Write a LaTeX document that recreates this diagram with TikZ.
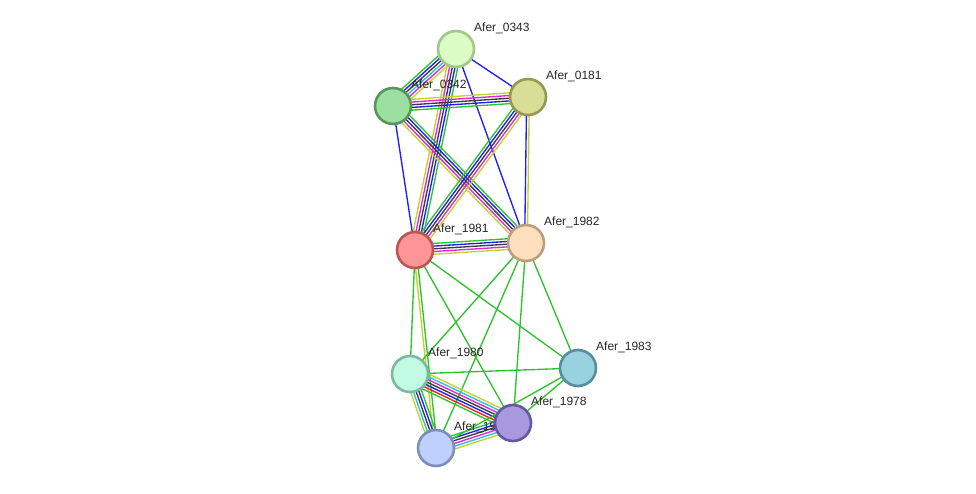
\documentclass[tikz,border=0pt]{standalone}
\usepackage{fontspec}
\setmainfont{Liberation Sans}
\usepackage{xcolor}
\usepackage{tikz}
\usetikzlibrary{calc}

\definecolor{sgreen}{RGB}{45,195,45}
\definecolor{sblue}{RGB}{30,30,245}
\definecolor{sblack}{RGB}{60,60,60}
\definecolor{smagenta}{RGB}{220,40,220}
\definecolor{scyan}{RGB}{40,190,230}
\definecolor{syellow}{RGB}{190,212,40}
\definecolor{sred}{RGB}{240,30,30}

% bundle of parallel evidence lines between two proteins
\newcommand{\strlink}[3]{%
  \foreach \col [count=\k] in {#3} {\xdef\nlink{\k}}
  \foreach \col [count=\k] in {#3} {
    \pgfmathsetmacro{\off}{(\k-(\nlink+1)/2)*2.7}
    \draw[\col,line width=1.35pt] ($(#1)!\off pt!90:(#2)$) -- ($(#2)!\off pt!-90:(#1)$);
  }}

\tikzset{
  prot/.style={circle,minimum size=36pt,inner sep=0pt,line width=2.6pt},
  plabel/.style={anchor=west,inner sep=0pt,font=\fontsize{12}{14}\selectfont,text=black!85}
}

\begin{document}
\begin{tikzpicture}[x=1pt,y=-1pt]
\useasboundingbox (0,0) rectangle (976,494);
\coordinate (n0343) at (456,49);
\coordinate (n0342) at (393,106);
\coordinate (n0181) at (528,97);
\coordinate (n1981) at (415,250);
\coordinate (n1982) at (526,243);
\coordinate (n1980) at (410,374);
\coordinate (n1983) at (578,368);
\coordinate (n1978) at (513,423);
\coordinate (n1979) at (436,448);
% edges
\strlink{n0343}{n0342}{sgreen,sblue,sblack,scyan,smagenta,syellow}
\strlink{n0343}{n0181}{sblue}
\strlink{n0343}{n1981}{syellow,smagenta,sblack,sblue,sgreen}
\strlink{n0343}{n1982}{sblue}
\strlink{n0342}{n0181}{sgreen,sblue,sblack,smagenta,syellow}
\strlink{n0342}{n1981}{sblue}
\strlink{n0342}{n1982}{syellow,smagenta,sblack,sblue,sgreen}
\strlink{n0181}{n1981}{sgreen,sblue,sblack,smagenta,syellow}
\strlink{n0181}{n1982}{sblue,syellow}
\strlink{n1981}{n1982}{syellow,smagenta,sblack,sblue,sgreen}
\strlink{n1981}{n1980}{sgreen}
\strlink{n1981}{n1979}{syellow,sgreen}
\strlink{n1981}{n1978}{sgreen}
\strlink{n1981}{n1983}{sgreen}
\strlink{n1982}{n1980}{sgreen}
\strlink{n1982}{n1979}{sgreen}
\strlink{n1982}{n1978}{sgreen}
\strlink{n1982}{n1983}{sgreen}
\strlink{n1980}{n1983}{sgreen}
\strlink{n1980}{n1978}{sgreen,sred,sblue,sblack,smagenta,scyan,syellow}
\strlink{n1980}{n1979}{syellow,scyan,sblack,sblue,sgreen}
\strlink{n1979}{n1978}{syellow,scyan,smagenta,sblack,sblue,sgreen}
\strlink{n1983}{n1978}{sgreen}
\strlink{n1983}{n1979}{sgreen}
% proteins
\node[prot,fill={rgb,255:red,217;green,253;blue,196},draw={rgb,255:red,160;green,200;blue,136}] (p0343) at (n0343) {};
\node[plabel] (l0343) at ($(n0343)+(18,-21)$) {Afer\_0343};
\node[prot,fill={rgb,255:red,216;green,222;blue,150},draw={rgb,255:red,150;green,152;blue,82}] (p0181) at (n0181) {};
\node[plabel] (l0181) at ($(n0181)+(18,-21)$) {Afer\_0181};
\node[prot,fill={rgb,255:red,155;green,224;blue,160},draw={rgb,255:red,88;green,150;blue,92}] (p0342) at (n0342) {};
\node[plabel] (l0342) at ($(n0342)+(18,-21)$) {Afer\_0342};
\node[prot,fill={rgb,255:red,255;green,222;blue,190},draw={rgb,255:red,185;green,160;blue,125}] (p1982) at (n1982) {};
\node[plabel] (l1982) at ($(n1982)+(18,-21)$) {Afer\_1982};
\node[prot,fill={rgb,255:red,255;green,148;blue,148},draw={rgb,255:red,185;green,85;blue,85}] (p1981) at (n1981) {};
\node[plabel] (l1981) at ($(n1981)+(18,-21)$) {Afer\_1981};
\node[prot,fill={rgb,255:red,152;green,210;blue,222},draw={rgb,255:red,88;green,142;blue,156}] (p1983) at (n1983) {};
\node[plabel] (l1983) at ($(n1983)+(18,-21)$) {Afer\_1983};
\node[prot,fill={rgb,255:red,194;green,251;blue,228},draw={rgb,255:red,125;green,185;blue,165}] (p1980) at (n1980) {};
\node[plabel] (l1980) at ($(n1980)+(18,-21)$) {Afer\_1980};
\node[prot,fill={rgb,255:red,192;green,208;blue,252},draw={rgb,255:red,125;green,142;blue,190}] (p1979) at (n1979) {};
\node[plabel] (l1979) at ($(n1979)+(18,-21)$) {Afer\_1979};
\node[prot,fill={rgb,255:red,168;green,152;blue,222},draw={rgb,255:red,102;green,88;blue,160}] (p1978) at (n1978) {};
\node[plabel] (l1978) at ($(n1978)+(18,-21)$) {Afer\_1978};
\end{tikzpicture}
\end{document}
